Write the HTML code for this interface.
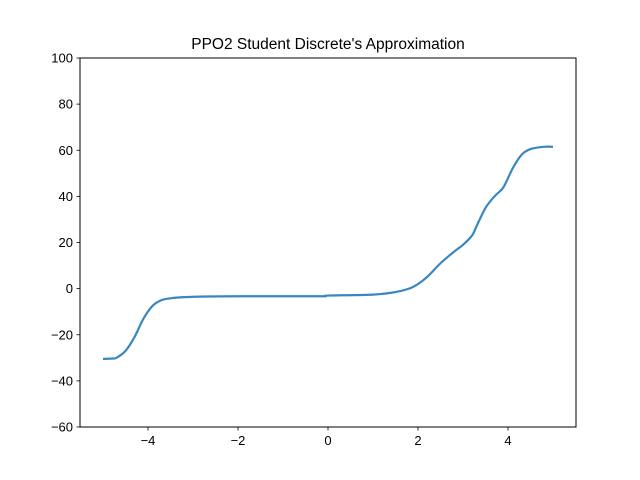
<!DOCTYPE html>
<html><head><meta charset="utf-8"><style>
body{margin:0;background:#fff;}
svg{display:block;font-family:"Liberation Sans","DejaVu Sans",sans-serif;}
</style></head><body>
<svg id="chart" width="640" height="480" viewBox="0 0 640 480" xmlns="http://www.w3.org/2000/svg">
<rect width="640" height="480" fill="#fff"/>
<text x="328" y="49" text-anchor="middle" font-size="15.5" fill="#000">PPO2 Student Discrete's Approximation</text>
<g id="plot"></g>
<rect x="80" y="58" width="496" height="369" fill="none" stroke="#000" stroke-width="1"/>
</svg>
<script>
const xs = [-5,-4.8,-4.7,-4.5,-4.3,-4.1,-3.9,-3.7,-3.5,-3.2,-2.7,-2,-1,-0.1,0,1,1.5,1.8,2,2.2,2.5,2.8,3,3.2,3.3,3.5,3.7,3.9,4.1,4.3,4.5,4.8,5];
const ys = [-30.5,-30.3,-30,-27,-21,-13,-7.5,-5,-4.2,-3.7,-3.4,-3.3,-3.3,-3.3,-3,-2.6,-1.5,0,2,5,11,16,19,23,27,35,40,44,52,58,60.5,61.5,61.5];
const xTicks = [-4,-2,0,2,4];
const yTicks = [-60,-40,-20,0,20,40,60,80,100];
const NS="http://www.w3.org/2000/svg";
const X = v => 328 + v*45;
const Y = v => 427 - (v+60)*(369/160);
const g = document.getElementById('plot');
function mk(t,a){const e=document.createElementNS(NS,t);for(const k in a)e.setAttribute(k,a[k]);g.appendChild(e);return e;}
xTicks.forEach(t=>{
  const l=mk('line',{x1:X(t),x2:X(t),y1:427,y2:430.5,stroke:'#000','stroke-width':0.8});
  
  
  const tx=mk('text',{x:X(t),y:445,'text-anchor':'middle','font-size':13});
  tx.textContent=(t<0?'\u2212'+(-t):t);
  
  
});
yTicks.forEach(t=>{
  const l=mk('line',{x1:76.5,x2:80,y1:Y(t),y2:Y(t),stroke:'#000','stroke-width':0.8});
  
  
  const tx=mk('text',{x:73,y:Y(t)+4.5,'text-anchor':'end','font-size':13});
  tx.textContent=(t<0?'\u2212'+(-t):t);
  
  
});
const P = xs.map((x,i)=>[X(x),Y(ys[i])]);
let d='M'+P[0][0]+','+P[0][1];
for(let i=0;i<P.length-1;i++){
  const p0=P[Math.max(0,i-1)],p1=P[i],p2=P[i+1],p3=P[Math.min(P.length-1,i+2)];
  const c1=[p1[0]+(p2[0]-p0[0])/6,p1[1]+(p2[1]-p0[1])/6];
  const c2=[p2[0]-(p3[0]-p1[0])/6,p2[1]-(p3[1]-p1[1])/6];
  d+=' C'+c1+' '+c2+' '+p2;
}
const p=mk('path',{d:d,fill:'none',stroke:'#3a87c0','stroke-width':2.2,'stroke-linejoin':'round'});


</script>
</body></html>
